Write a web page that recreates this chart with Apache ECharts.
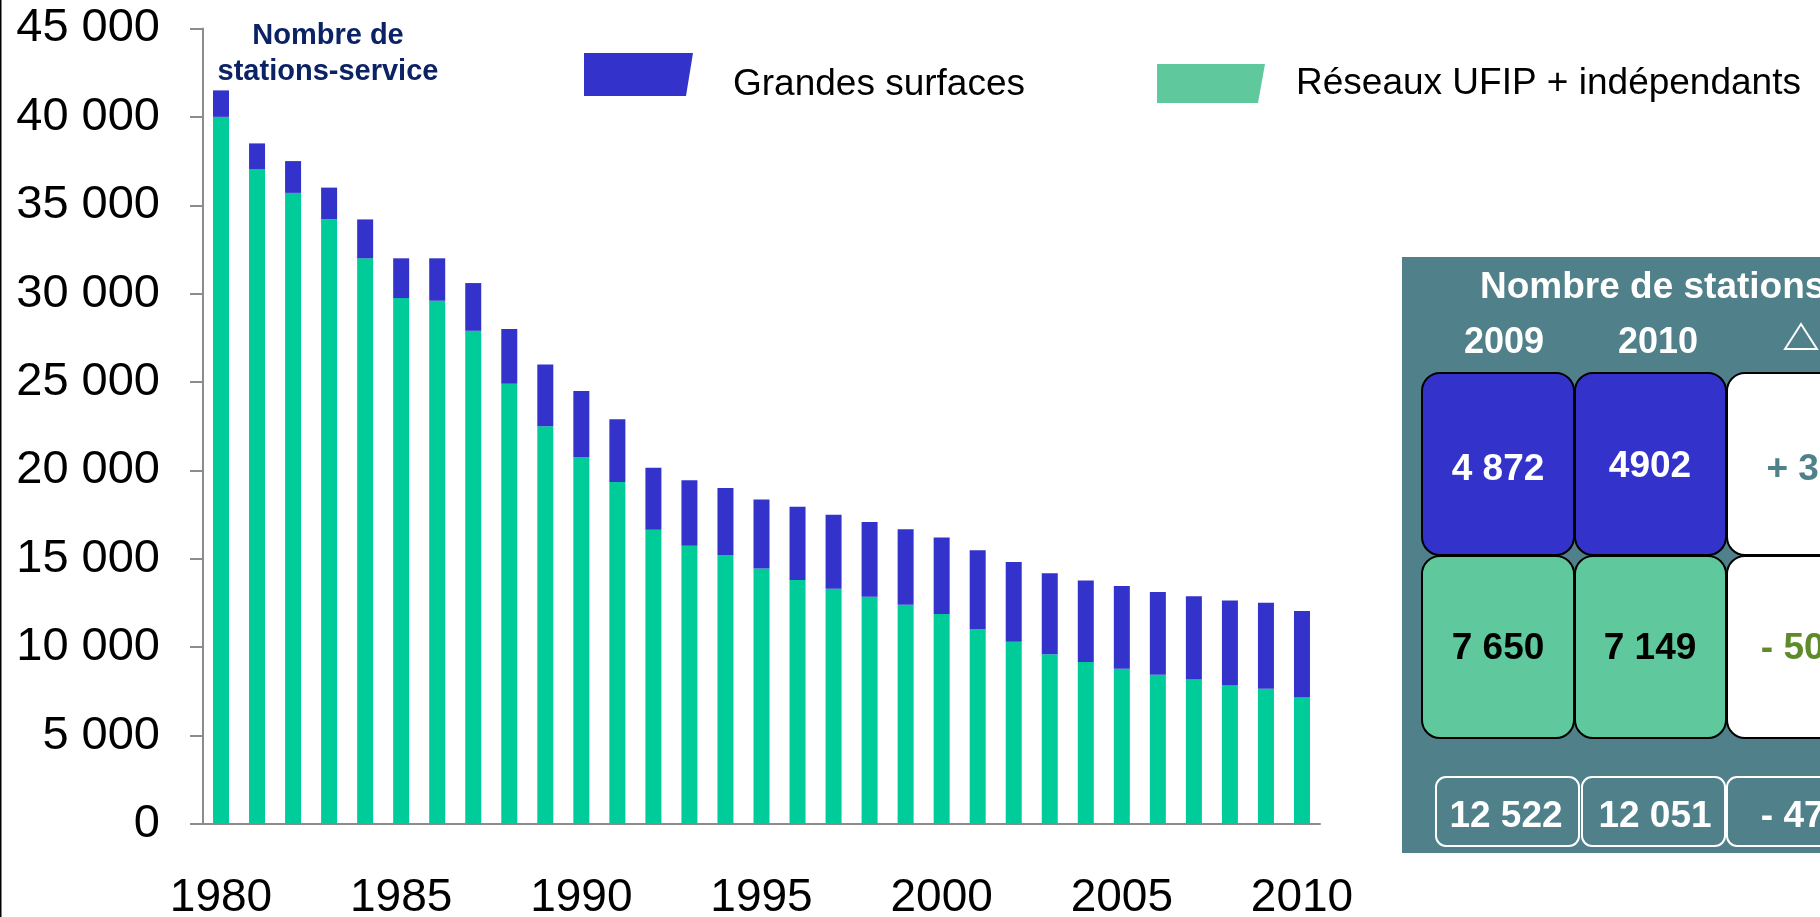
<!DOCTYPE html>
<html>
<head>
<meta charset="utf-8">
<title>Nombre de stations-service</title>
<script src="https://cdn.jsdelivr.net/npm/echarts@6/dist/echarts.min.js"></script>
<style>
html, body { margin: 0; padding: 0; background: #fff; }
#chart { width: 1820px; height: 917px; }
</style>
</head>
<body>
<div id="chart"></div>
<script>
var years = ["1980", "1981", "1982", "1983", "1984", "1985", "1986", "1987", "1988", "1989",
  "1990", "1991", "1992", "1993", "1994", "1995", "1996", "1997", "1998", "1999",
  "2000", "2001", "2002", "2003", "2004", "2005", "2006", "2007", "2008", "2009", "2010"];

// Réseaux UFIP + indépendants (bas de la barre)
var reseaux = [40000, 37050, 35700, 34200, 32000, 29750, 29600, 27900, 24900, 22500,
  20760, 19340, 16640, 15740, 15210, 14460, 13800, 13310, 12860, 12400,
  11880, 11030, 10310, 9600, 9160, 8780, 8440, 8180, 7840, 7650, 7149];

// Grandes surfaces (haut de la barre)
var grandesSurfaces = [1500, 1450, 1800, 1800, 2200, 2250, 2400, 2700, 3100, 3500,
  3740, 3560, 3510, 3710, 3790, 3890, 4150, 4190, 4220, 4270,
  4320, 4450, 4510, 4580, 4620, 4680, 4680, 4700, 4810, 4872, 4902];

// tableau de droite
var tableHeaders = ["2009", "2010"];
var tableGrandes = ["4 872", "4902", "+ 30"];
var tableReseaux = ["7 650", "7 149", "- 501"];
var tableTotal = ["12 522", "12 051", "- 471"];

var FONT = "Liberation Sans, Arial, sans-serif";
var BLUE = "#3333CC";
var GREEN = "#00CC99";
var AXIS = "#8c8c8c";

function fmt(v) {
  return String(v).replace(/\B(?=(\d{3})+(?!\d))/g, " ");
}

var chart = echarts.init(document.getElementById("chart"));

// panneau "Nombre de stations"
var panel = [];
panel.push({ type: "rect", shape: { x: 1402, y: 257, width: 440, height: 596 }, style: { fill: "#50808A" } });
panel.push({ type: "text", style: { text: "Nombre de stations", x: 1480, y: 288, textAlign: "left", textVerticalAlign: "middle", font: "bold 37px " + FONT, fill: "#fff" } });
var colX = [1422, 1575, 1727];
var colW = [152, 151, 160];
var colC = [1498, 1650, 1803];
tableHeaders.forEach(function (h, i) {
  panel.push({ type: "text", style: { text: h, x: [1504, 1658][i], y: 343, textAlign: "center", textVerticalAlign: "middle", font: "bold 36px " + FONT, fill: "#fff" } });
});
panel.push({ type: "polygon", shape: { points: [[1785, 349], [1817, 349], [1801, 324]] }, style: { fill: "none", stroke: "#fff", lineWidth: 2 } });

var rowFill = [[BLUE, BLUE, "#fff"], ["#5FC99D", "#5FC99D", "#fff"]];
var rowText = [tableGrandes, tableReseaux];
var rowColor = [["#fff", "#fff", "#50808A"], ["#000", "#000", "#5E8A2A"]];
var rowY = [373, 556];
var rowC = [[470, 467, 470], [649, 649, 649]];
for (var r = 0; r < 2; r++) {
  for (var c = 0; c < 3; c++) {
    panel.push({ type: "rect", shape: { x: colX[c], y: rowY[r], width: colW[c], height: 182, r: 18 }, style: { fill: rowFill[r][c], stroke: "#000", lineWidth: 2 } });
    panel.push({ type: "text", style: { text: rowText[r][c], x: colC[c], y: rowC[r][c], textAlign: "center", textVerticalAlign: "middle", font: "bold 37px " + FONT, fill: rowColor[r][c] } });
  }
}
var totX = [1436, 1582, 1727];
var totW = [143, 143, 160];
var totC = [1506, 1655, 1803];
for (var t = 0; t < 3; t++) {
  panel.push({ type: "rect", shape: { x: totX[t], y: 777, width: totW[t], height: 69, r: 10 }, style: { fill: "none", stroke: "#fff", lineWidth: 2 } });
  panel.push({ type: "text", style: { text: tableTotal[t], x: totC[t], y: 817, textAlign: "center", textVerticalAlign: "middle", font: "bold 37px " + FONT, fill: "#fff" } });
}

var option = {
  animation: false,
  backgroundColor: "#fff",
  grid: { left: 203, right: 500, top: 28.5, bottom: 93, containLabel: false, outerBoundsMode: "none" },
  legend: [
    {
      data: [{ name: "Grandes surfaces", itemStyle: { color: BLUE } }],
      left: 584, top: 53, padding: 0,
      itemWidth: 109, itemHeight: 63,
      // icône en haut de la zone, le texte est centré plus bas
      icon: "path://M0,0L109,0L102,43L0,43ZM0,63L0.01,63L0,63Z",
      selectedMode: false,
      textStyle: { fontSize: 37, color: "#000", fontFamily: FONT, padding: [0, 0, 0, 35] }
    },
    {
      data: [{ name: "Réseaux UFIP + indépendants", itemStyle: { color: "#5FC99D" } }],
      left: 1157, top: 64, padding: 0,
      itemWidth: 108, itemHeight: 39,
      icon: "path://M0,0L108,0L101,39L0,39Z",
      selectedMode: false,
      textStyle: { fontSize: 37, color: "#000", fontFamily: FONT, padding: [0, 0, 5, 26] }
    }
  ],
  xAxis: {
    type: "category",
    data: years,
    boundaryGap: true,
    axisLine: { lineStyle: { color: AXIS, width: 2 } },
    axisTick: { interval: 4, length: 15, lineStyle: { color: AXIS, width: 2 } },
    axisLabel: { interval: 4, fontSize: 46, color: "#000", fontFamily: FONT, margin: 51 }
  },
  yAxis: {
    type: "value",
    min: 0,
    max: 45000,
    interval: 5000,
    axisLine: { show: true, lineStyle: { color: AXIS, width: 2 } },
    axisTick: { show: true, length: 13, lineStyle: { color: AXIS, width: 2 } },
    splitLine: { show: false },
    axisLabel: { fontSize: 47, color: "#000", fontFamily: FONT, margin: 43, formatter: fmt }
  },
  series: [
    {
      name: "Réseaux UFIP + indépendants",
      type: "bar",
      stack: "total",
      barWidth: 16,
      itemStyle: { color: GREEN },
      data: reseaux
    },
    {
      name: "Grandes surfaces",
      type: "bar",
      stack: "total",
      barWidth: 16,
      itemStyle: { color: BLUE },
      data: grandesSurfaces
    }
  ],
  graphic: [
    { type: "rect", shape: { x: 0, y: 0, width: 1.5, height: 917 }, style: { fill: "#000" } },
    { type: "text", style: { text: "Nombre de\nstations-service", x: 328, y: 18, textAlign: "center", textVerticalAlign: "top", font: "bold 29px " + FONT, lineHeight: 36, fill: "#0B2265" } }
  ].concat(panel)
};

chart.setOption(option);
</script>
</body>
</html>
